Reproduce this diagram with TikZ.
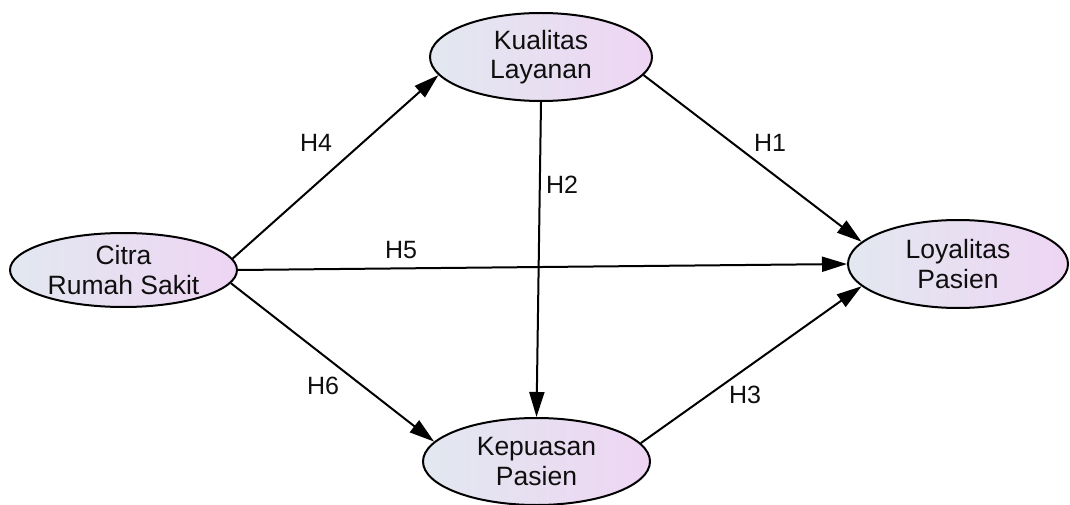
\documentclass[tikz,border=0pt]{standalone}
\usepackage{fontspec}
\setmainfont{Liberation Sans}
\usetikzlibrary{shapes.geometric,arrows.meta}

\definecolor{ellleft}{RGB}{226,232,240}
\definecolor{ellright}{RGB}{238,213,243}
\definecolor{txtgray}{RGB}{15,15,15}

\tikzset{
  latent/.style={ellipse, draw=black, line width=2pt, inner sep=0pt,
    left color=ellleft, right color=ellright, align=center,
    text=txtgray, font=\fontsize{26.5}{29.5}\selectfont},
  path/.style={line width=2pt, -{Triangle[length=25pt,width=15pt]}},
  hlabel/.style={text=txtgray, font=\fontsize{25}{29}\selectfont, inner sep=0pt}
}

\begin{document}
\begin{tikzpicture}[x=1pt,y=-1pt]
\useasboundingbox (0,0) rectangle (1070,505);

% Latent variables
\node[latent, minimum width=227pt, minimum height=74pt] (citra) at (123.5,270) {Citra\\Rumah Sakit};
\node[latent, minimum width=222pt, minimum height=88pt] (kualitas) at (541,57) {Kualitas\\Layanan};
\node[latent, minimum width=227pt, minimum height=87pt] (kepuasan) at (536.5,461.5) {Kepuasan\\Pasien};
\node[latent, minimum width=220pt, minimum height=88pt] (loyalitas) at (958,264) {Loyalitas\\Pasien};

% Paths
\draw[path] (citra.6) -- (kualitas.190);
\draw[path] (citra.east) -- (loyalitas.west);
\draw[path] (citra.-7) -- (kepuasan.169);
\draw[path] (kualitas.south) -- (kepuasan.north);
\draw[path] (kualitas.-10) -- (loyalitas.167);
\draw[path] (kepuasan.10) -- (loyalitas.193);

% Hypotheses
\node[hlabel] (h4) at (316,143) {H4};
\node[hlabel] (h2) at (562,185) {H2};
\node[hlabel] (h1) at (770,143) {H1};
\node[hlabel] (h5) at (401,250) {H5};
\node[hlabel] (h6) at (323,386) {H6};
\node[hlabel] (h3) at (745,395) {H3};
\end{tikzpicture}
\end{document}
